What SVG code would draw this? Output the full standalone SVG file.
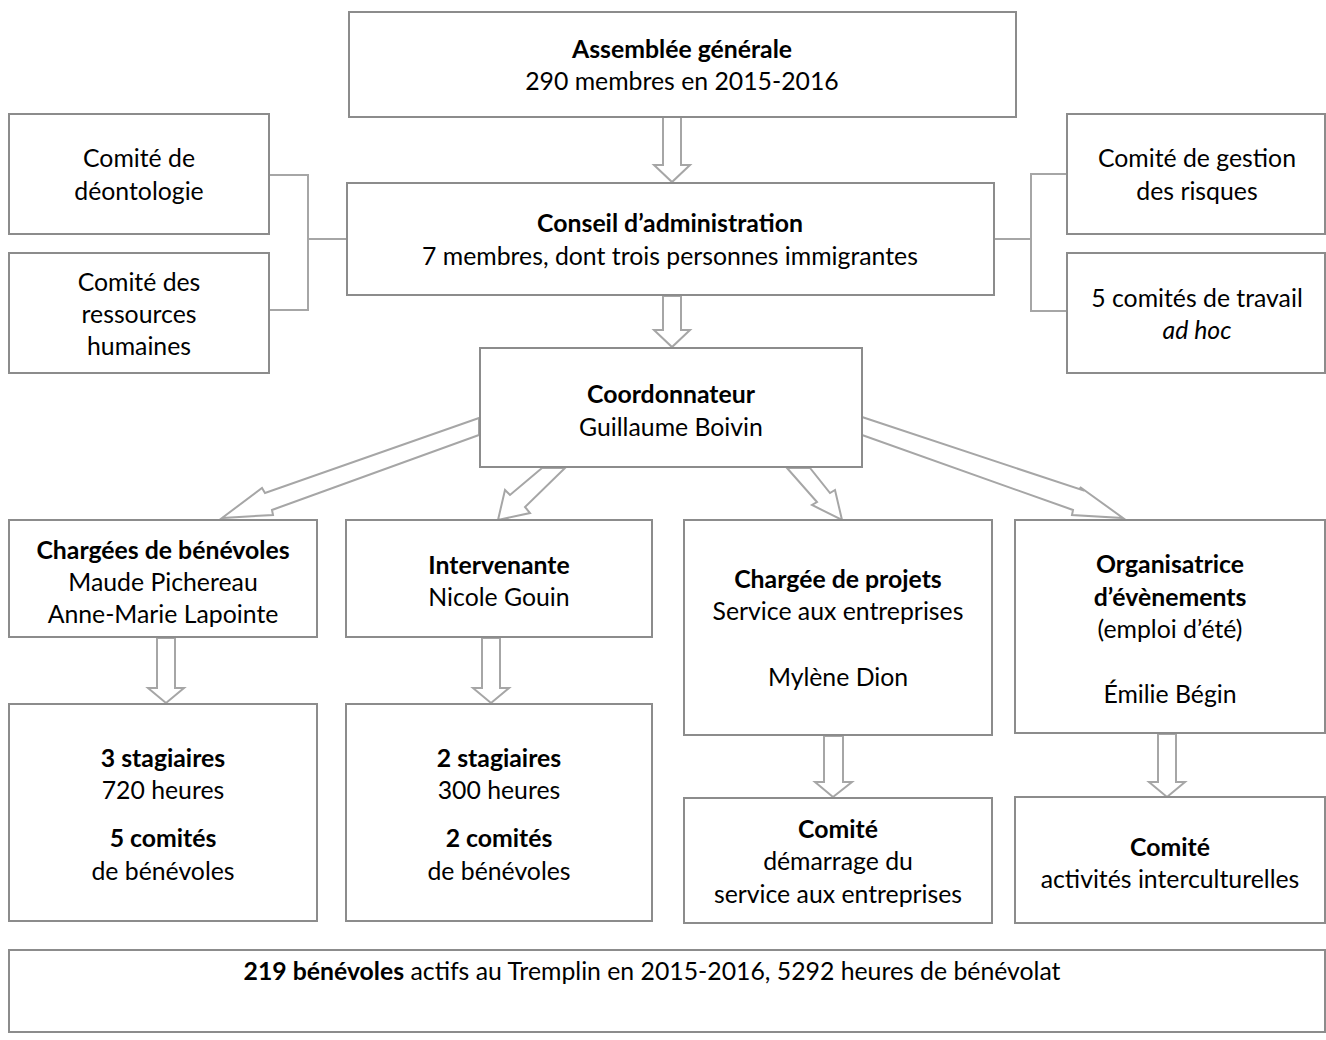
<svg xmlns="http://www.w3.org/2000/svg" width="1326" height="1040" viewBox="0 0 1326 1040">
<style>
.box{fill:#fff;stroke:#8c8c8c;stroke-width:2}
.ln{fill:none;stroke:#a6a6a6;stroke-width:2}
.ar{fill:#fff;stroke:#a6a6a6;stroke-width:2;stroke-linejoin:miter}
text{font-family:Lato,"Open Sans","Liberation Sans",sans-serif;font-size:24.8px;fill:#000;text-anchor:middle}
.b{font-weight:bold}
.i{font-style:italic}
</style>
<rect width="1326" height="1040" fill="#fff"/>
<g id="connectors">
<polyline class="ln" points="270,175 308,175 308,310 270,310"/>
<line class="ln" x1="308" y1="239" x2="347" y2="239"/>
<polyline class="ln" points="1067,174 1031,174 1031,311 1067,311"/>
<line class="ln" x1="994" y1="239" x2="1031" y2="239"/>
<polygon class="ar" points="663,117 681,117 681,165 690,165 672,182 654,165 663,165"/>
<polygon class="ar" points="663,296 681,296 681,330 690,330 672,347 654,330 663,330"/>
<polygon class="ar" points="479,418 265,493 262,488 222,518 273,515 272,510 479,435"/>
<polygon class="ar" points="542,468 510,495 505,490 498,520 530,513 525,507 565,468"/>
<polygon class="ar" points="787,468 817,502 812,505 842,520 835,490 830,493 810,468"/>
<polygon class="ar" points="862,417 1082,490 1080,487 1123,518 1072,515 1073,510 862,435"/>
<polygon class="ar" points="157,638 175,638 175,688 184,688 166,703 148,688 157,688"/>
<polygon class="ar" points="482,638 500,638 500,688 509,688 491,703 473,688 482,688"/>
<polygon class="ar" points="824,736 843,736 843,782 852,782 833,797 815,782 824,782"/>
<polygon class="ar" points="1158,734 1176,734 1176,782 1185,782 1167,797 1149,782 1158,782"/>
</g>
<g id="assemblee">
<rect class="box" x="349" y="12" width="667" height="105"/>
<text x="682" y="58" class="b">Assemblée générale</text>
<text x="682" y="90">290 membres en 2015-2016</text>
</g>
<g id="deontologie">
<rect class="box" x="9" y="114" width="260" height="120"/>
<text x="139" y="167">Comité de</text>
<text x="139" y="200">déontologie</text>
</g>
<g id="rh">
<rect class="box" x="9" y="253" width="260" height="120"/>
<text x="139" y="291">Comité des</text>
<text x="139" y="323">ressources</text>
<text x="139" y="355">humaines</text>
</g>
<g id="conseil">
<rect class="box" x="347" y="183" width="647" height="112"/>
<text x="670" y="232" class="b">Conseil d’administration</text>
<text x="670" y="265">7 membres, dont trois personnes immigrantes</text>
</g>
<g id="risques">
<rect class="box" x="1067" y="114" width="258" height="120"/>
<text x="1197" y="167">Comité de gestion</text>
<text x="1197" y="200">des risques</text>
</g>
<g id="adhoc">
<rect class="box" x="1067" y="253" width="258" height="120"/>
<text x="1197" y="307">5 comités de travail</text>
<text x="1197" y="339" class="i">ad hoc</text>
</g>
<g id="coordonnateur">
<rect class="box" x="480" y="348" width="382" height="119"/>
<text x="671" y="403" class="b">Coordonnateur</text>
<text x="671" y="436">Guillaume Boivin</text>
</g>
<g id="benevoles">
<rect class="box" x="9" y="520" width="308" height="117"/>
<text x="163" y="559" class="b">Chargées de bénévoles</text>
<text x="163" y="591">Maude Pichereau</text>
<text x="163" y="623">Anne-Marie Lapointe</text>
</g>
<g id="intervenante">
<rect class="box" x="346" y="520" width="306" height="117"/>
<text x="499" y="574" class="b">Intervenante</text>
<text x="499" y="606">Nicole Gouin</text>
</g>
<g id="projets">
<rect class="box" x="684" y="520" width="308" height="215"/>
<text x="838" y="588" class="b">Chargée de projets</text>
<text x="838" y="620">Service aux entreprises</text>
<text x="838" y="686">Mylène Dion</text>
</g>
<g id="evenements">
<rect class="box" x="1015" y="520" width="310" height="213"/>
<text x="1170" y="573" class="b">Organisatrice</text>
<text x="1170" y="606" class="b">d’évènements</text>
<text x="1170" y="638">(emploi d’été)</text>
<text x="1170" y="703">Émilie Bégin</text>
</g>
<g id="stagiaires3">
<rect class="box" x="9" y="704" width="308" height="217"/>
<text x="163" y="767" class="b">3 stagiaires</text>
<text x="163" y="799">720 heures</text>
<text x="163" y="847" class="b">5 comités</text>
<text x="163" y="880">de bénévoles</text>
</g>
<g id="stagiaires2">
<rect class="box" x="346" y="704" width="306" height="217"/>
<text x="499" y="767" class="b">2 stagiaires</text>
<text x="499" y="799">300 heures</text>
<text x="499" y="847" class="b">2 comités</text>
<text x="499" y="880">de bénévoles</text>
</g>
<g id="comite-demarrage">
<rect class="box" x="684" y="798" width="308" height="125"/>
<text x="838" y="838" class="b">Comité</text>
<text x="838" y="870">démarrage du</text>
<text x="838" y="903">service aux entreprises</text>
</g>
<g id="comite-interculturel">
<rect class="box" x="1015" y="797" width="310" height="126"/>
<text x="1170" y="856" class="b">Comité</text>
<text x="1170" y="888">activités interculturelles</text>
</g>
<g id="total">
<rect class="box" x="9" y="950" width="1316" height="82"/>
<text x="652" y="980"><tspan class="b">219 bénévoles</tspan> actifs au Tremplin en 2015-2016, 5292 heures de bénévolat</text>
</g>
</svg>
